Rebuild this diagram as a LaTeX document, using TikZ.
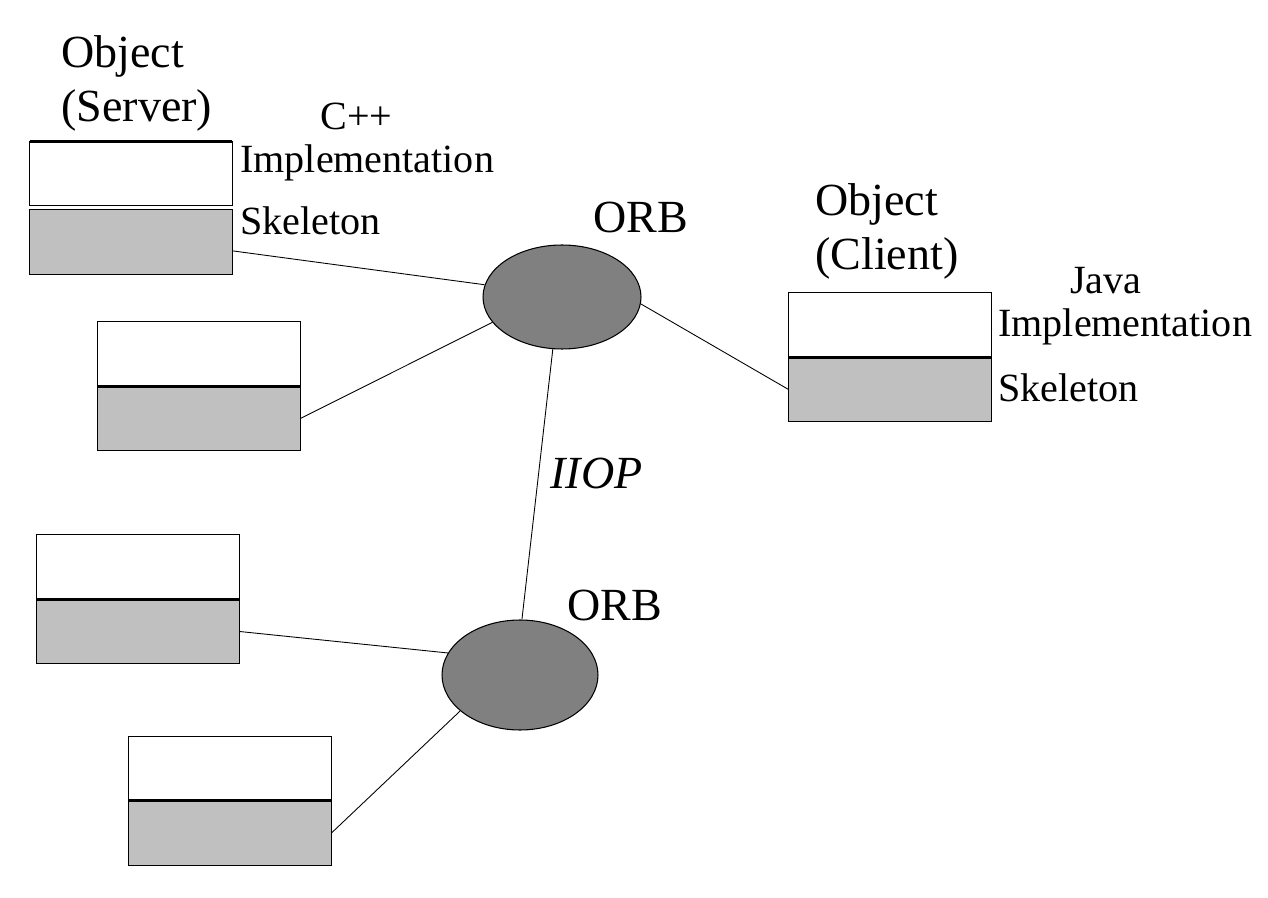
\documentclass[tikz,border=0pt]{standalone}
\usepackage{fontspec}
\setmainfont{Liberation Serif}
\usetikzlibrary{positioning,shapes.geometric}
\definecolor{skelgray}{HTML}{C0C0C0}
\definecolor{orbgray}{HTML}{808080}
\tikzset{
  implbox/.style={draw=black,fill=white,line width=0.7pt,
                  minimum width=4.06cm,minimum height=1.29cm,
                  inner sep=0pt,outer sep=0pt},
  skelbox/.style={implbox,fill=skelgray},
  orb/.style={ellipse,draw=black,fill=orbgray,line width=0.6pt,inner sep=0pt},
  link/.style={draw=black,line width=0.5pt},
  divider/.style={line width=1.7pt},
  bigtxt/.style={font=\fontsize{26.2}{31.3}\selectfont,inner sep=0pt,align=left},
  smalltxt/.style={font=\fontsize{22.8}{25}\selectfont,inner sep=0pt,align=left}
}

\begin{document}
\begin{tikzpicture}[x=0.02cm,y=-0.02cm]
    \path[use as bounding box] (0,0) rectangle (1268,898);
    % server object
    \node[implbox] (impA) at (131,173.5) {};
    \node[skelbox,below=0.08cm of impA] (skelA) {};
    \draw[divider] (impA.north west) -- (impA.north east);
    \node[bigtxt,anchor=base west] (objA) at (61,122) {Object\\(Server)};
    \node[smalltxt,anchor=base west] (langA) at (240,173)
      {\hspace*{1.6cm}C++\\Implementation};
    \node[smalltxt,anchor=base west] (skA) at (240,235) {Skeleton};
    % client object
    \node[implbox] (impC) at (890,325) {};
    \node[skelbox,below=0pt of impC] (skelC) {};
    \draw[divider] (impC.south west) -- (impC.south east);
    \node[bigtxt,anchor=base west] (objC) at (815,270) {Object\\(Client)};
    \node[smalltxt,anchor=base west] (langC) at (998,337)
      {\hspace*{1.44cm}Java\\Implementation};
    \node[smalltxt,anchor=base west] (skC) at (998,402) {Skeleton};
    % other objects
    \node[implbox] (impB) at (199,354) {};
    \node[skelbox,below=0pt of impB] (skelB) {};
    \draw[divider] (impB.south west) -- (impB.south east);
    \node[implbox] (impD) at (138,567) {};
    \node[skelbox,below=0pt of impD] (skelD) {};
    \draw[divider] (impD.south west) -- (impD.south east);
    \node[implbox] (impE) at (230,768.5) {};
    \node[skelbox,below=0pt of impE] (skelE) {};
    \draw[divider] (impE.south west) -- (impE.south east);
    % brokers
    \node[orb,minimum width=3.16cm,minimum height=2.08cm] (orbA) at (562,297) {};
    \node[orb,minimum width=3.12cm,minimum height=2.2cm] (orbB) at (520,675) {};
    \node[bigtxt,anchor=base west] (orbAlbl) at (593,233) {ORB};
    \node[bigtxt,anchor=base west] (orbBlbl) at (567,620) {ORB};
    \node[bigtxt,anchor=base west,font=\fontsize{26.2}{31.3}\selectfont\itshape]
      (iiop) at (550,488) {IIOP};
    % links
    \draw[link] (skelA.-5) -- (orbA.171);
    \draw[link] (skelB.east) -- (orbA.200);
    \draw[link] (orbA.-5) -- (skelC.west);
    \draw[link] (orbA.260) -- (orbB.88);
    \draw[link] (skelD.east) -- (orbB.163);
    \draw[link] (skelE.east) -- (orbB.211);
\end{tikzpicture}
\end{document}
